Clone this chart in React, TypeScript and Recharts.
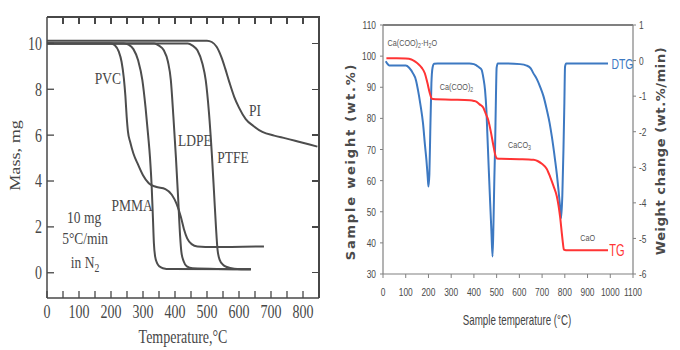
import React from 'react';
import { LineChart, Line, XAxis, YAxis, ReferenceDot } from 'recharts';

// ================= Left chart: TGA of polymers (Temperature °C -> Mass mg) =================
const leftTempTicks = [0, 50, 100, 150, 200, 250, 300, 350, 400, 450, 500, 550, 600, 650, 700, 750, 800];
const leftMassTicks = [0, 2, 4, 6, 8, 10];
const leftTempDomain = [0, 850];
const leftMassDomain = [-1.1, 11.15];

const pvcTemp = [0, 200, 212, 224, 233, 240, 245, 249, 253, 260, 270, 285, 300, 318, 340, 370, 390, 405, 418, 428, 438, 452, 470, 520, 678];
const pvcMass = [10, 10, 9.92, 9.65, 9.2, 8.5, 7.7, 6.8, 6.15, 5.7, 5.2, 4.7, 4.25, 3.9, 3.75, 3.65, 3.4, 3.0, 2.45, 1.9, 1.5, 1.25, 1.15, 1.12, 1.15];

const pmmaTemp = [0, 240, 255, 270, 285, 298, 308, 316, 322, 327, 331, 334, 338, 344, 352, 362, 385, 637];
const pmmaMass = [10, 10, 9.94, 9.75, 9.25, 8.4, 7.2, 6.0, 5.0, 3.8, 2.4, 1.3, 0.7, 0.42, 0.27, 0.2, 0.16, 0.15];

const ldpeTemp = [0, 335, 350, 365, 378, 387, 395, 403, 410, 416, 420, 427, 437, 455, 637];
const ldpeMass = [10, 10, 9.9, 9.7, 9.2, 8.4, 6.8, 5.0, 3.2, 1.6, 0.9, 0.5, 0.28, 0.2, 0.15];

const ptfeTemp = [0, 440, 455, 470, 486, 496, 506, 515, 522, 528, 533, 540, 550, 562, 585, 637];
const ptfeMass = [10, 10, 9.9, 9.7, 9.1, 8.4, 7.0, 5.2, 3.5, 2.0, 1.0, 0.55, 0.35, 0.25, 0.18, 0.15];

const piTemp = [0, 500, 515, 530, 545, 557, 570, 585, 600, 621, 645, 673, 710, 746, 790, 845];
const piMass = [10.12, 10.12, 10.06, 9.85, 9.4, 8.9, 8.3, 7.67, 7.2, 6.7, 6.4, 6.14, 5.98, 5.86, 5.7, 5.5];

// ================= Right chart: Ca oxalate TG / DTG =================
const rightTempTicks = [0, 100, 200, 300, 400, 500, 600, 700, 800, 900, 1000, 1100];
const rightTempDomain = [0, 1100];
const weightTicks = [30, 40, 50, 60, 70, 80, 90, 100, 110];
const weightDomain = [30, 110];
const rateTicks = [-6, -5, -4, -3, -2, -1, 0, 1];
const rateDomain = [-6, 1];

const tgTemp = [15, 60, 100, 125, 140, 155, 170, 184, 195, 206, 213, 220, 300, 382, 400, 412, 425, 441, 452, 463, 475, 485, 495, 502, 520, 600, 662, 680, 699, 720, 735, 750, 765, 779, 790, 796, 805, 990];
const tgWeight = [99.3, 99.3, 99.2, 98.9, 98.3, 97.5, 96.3, 94.5, 91.5, 88.1, 86.5, 86.2, 86.0, 85.8, 85.6, 85.3, 84.5, 83.5, 81.5, 79.5, 75.5, 71.5, 68.0, 67.1, 67.0, 66.9, 66.7, 66.3, 65.4, 63.8, 61.3, 58.3, 54.9, 48.5, 41.0, 37.8, 37.6, 37.6];

const dtgTemp = [12, 18, 28, 100, 115, 132, 145, 154, 165, 176, 185, 191, 197, 200, 204, 208, 213, 218, 225, 240, 380, 400, 412, 425, 434, 442, 449, 455, 459, 465, 471, 477, 482, 486, 490, 493, 497, 500, 505, 540, 603, 632, 650, 662, 677, 691, 706, 721, 733, 743, 757, 765, 772, 779, 784, 789, 794, 798, 801, 806, 990];
const dtgRate = [-0.02, -0.08, -0.14, -0.14, -0.2, -0.36, -0.55, -0.83, -1.25, -1.76, -2.4, -2.79, -3.3, -3.54, -3.2, -2.0, -0.64, -0.2, -0.09, -0.08, -0.08, -0.1, -0.14, -0.2, -0.26, -0.5, -0.83, -1.4, -2.04, -3.0, -3.92, -4.8, -5.51, -4.6, -3.3, -2.5, -1.0, -0.2, -0.08, -0.08, -0.1, -0.14, -0.22, -0.36, -0.52, -0.73, -1.0, -1.39, -1.75, -2.14, -2.79, -3.2, -3.63, -4.1, -4.43, -3.8, -2.51, -1.2, -0.17, -0.08, -0.08];

// ---------- stable series tables built from the arrays above ----------
const toPoints = (t: number[], v: number[]) => t.map((x, i) => ({ t: x, v: v[i] }));
const pvcPts = toPoints(pvcTemp, pvcMass);
const pmmaPts = toPoints(pmmaTemp, pmmaMass);
const ldpePts = toPoints(ldpeTemp, ldpeMass);
const ptfePts = toPoints(ptfeTemp, ptfeMass);
const piPts = toPoints(piTemp, piMass);
const tgPts = toPoints(tgTemp, tgWeight);
const dtgPts = toPoints(dtgTemp, dtgRate);

// ---------- layout ----------
const CHART_W = 340;
const CHART_H = 350;
const L_MARGIN = { top: 17, right: 21, left: 0, bottom: 0 };
const L_YAXIS_W = 47;
const L_XAXIS_H = 52;
const L_PLOT = { left: L_MARGIN.left + L_YAXIS_W, right: CHART_W - L_MARGIN.right, top: L_MARGIN.top, bottom: CHART_H - L_XAXIS_H };
const R_MARGIN = { top: 25, right: 0, left: 0, bottom: 0 };
const R_YAXIS_W = 43;
const R_Y2AXIS_W = 47;
const R_PLOT = { left: R_MARGIN.left + R_YAXIS_W, right: CHART_W - R_Y2AXIS_W, top: R_MARGIN.top };
const INNER_TICK = 7;

const SERIF = '"Liberation Serif", "DejaVu Serif", serif';
const SANS = '"Liberation Sans", Arial, sans-serif';
const WIDE = '"DejaVu Sans", "Liberation Sans", sans-serif';
const INK = '#474747';
const AXIS_R = '#808080';
const TXT_R = '#4a4a4a';
const BLUE = '#3d79c2';
const RED = '#ff3434';
const STRETCH = 1.3;

const L_AXIS = { stroke: INK, strokeWidth: 1.5 };
const L_TICK = { stroke: INK, strokeWidth: 1.3 };
const R_AXIS = { stroke: AXIS_R, strokeWidth: 1.2 };
const R_TICK = { stroke: AXIS_R, strokeWidth: 1 };

const LeftXTick = (p: any) => {
  const v = p.payload?.value;
  if (v % 100 !== 0) return <g />;
  return (
    <g transform={`translate(${p.x},${p.y}) scale(1,${STRETCH})`}>
      <text x={0} y={0} dy="0.71em" textAnchor="middle" fontFamily={SERIF} fontSize={14} fill={INK}>{v}</text>
    </g>
  );
};

const LeftYTick = (p: any) => (
  <g transform={`translate(${p.x},${p.y}) scale(1,${STRETCH})`}>
    <text x={0} y={0} dy="0.35em" textAnchor="end" fontFamily={SERIF} fontSize={14} fill={INK}>{p.payload?.value}</text>
  </g>
);

const NarrowTick = (p: any) => {
  const anchor = p.textAnchor || 'middle';
  const bottom = p.orientation === 'bottom';
  return (
    <g transform={`translate(${p.x},${p.y}) scale(0.8,1.12)`}>
      <text x={0} y={0} dy={bottom ? '0.71em' : '0.35em'} textAnchor={anchor} fontFamily={SANS} fontSize={10.5} fill={TXT_R}>{p.payload?.value}</text>
    </g>
  );
};

type LabelOpts = {
  content: React.ReactNode;
  size: number;
  fill: string;
  family: string;
  anchor?: 'start' | 'middle' | 'end';
  weight?: number | string;
  sx?: number;
  sy?: number;
};

const makeLabel = (o: LabelOpts) => (props: any) => {
  const vb = props.viewBox || {};
  const x = (vb.x ?? 0) + (vb.width ?? 0) / 2;
  const y = (vb.y ?? 0) + (vb.height ?? 0) / 2;
  return (
    <g transform={`translate(${x},${y}) scale(${o.sx ?? 1},${o.sy ?? 1})`}>
      <text x={0} y={0} dy="0.35em" textAnchor={o.anchor ?? 'middle'} fontFamily={o.family} fontSize={o.size} fill={o.fill} fontWeight={o.weight ?? 'normal'}>
        {o.content}
      </text>
    </g>
  );
};

const Sub = ({ children }: { children: React.ReactNode }) => (
  <tspan dy="0.3em" fontSize="0.72em">{children}</tspan>
);
const Up = ({ children }: { children: React.ReactNode }) => (
  <tspan dy="-0.22em">{children}</tspan>
);

const serifLabel = (content: React.ReactNode) => makeLabel({ content, size: 13.5, fill: INK, family: SERIF, sy: STRETCH });
const smallLabel = (content: React.ReactNode) => makeLabel({ content, size: 8.5, fill: '#555', family: SANS, anchor: 'start', sx: 0.85, sy: 1.05 });

const LBL_PVC = serifLabel('PVC');
const LBL_PI = serifLabel('PI');
const LBL_LDPE = serifLabel('LDPE');
const LBL_PTFE = serifLabel('PTFE');
const LBL_PMMA = serifLabel('PMMA');
const LBL_MG = serifLabel('10 mg');
const LBL_RATE = serifLabel('5°C/min');
const LBL_N2 = serifLabel(<>in N<Sub>2</Sub></>);
const LBL_HYD = smallLabel(<>Ca(COO)<Sub>2</Sub><Up>·H</Up><Sub>2</Sub><Up>O</Up></>);
const LBL_OX = smallLabel(<>Ca(COO)<Sub>2</Sub></>);
const LBL_CO3 = smallLabel(<>CaCO<Sub>3</Sub></>);
const LBL_CAO = smallLabel('CaO');
const LBL_DTG = makeLabel({ content: 'DTG', size: 13, fill: BLUE, family: SANS, anchor: 'start', sx: 0.8, sy: 1.15 });
const LBL_TG = makeLabel({ content: 'TG', size: 13, fill: RED, family: SANS, anchor: 'start', sx: 0.85, sy: 1.2 });

const LeftXTitle = {
  content: (p: any) => {
    const vb = p.viewBox;
    return (
      <g transform={`translate(${vb.x + vb.width / 2},${vb.y + 39}) scale(1,${STRETCH})`}>
        <text x={0} y={0} dy="0.35em" textAnchor="middle" fontFamily={SERIF} fontSize={14} fill={INK}>Temperature,°C</text>
      </g>
    );
  },
};
const LeftYTitle = {
  content: (p: any) => {
    const vb = p.viewBox;
    return (
      <g transform={`translate(${vb.x + 15},${vb.y + vb.height / 2 - 2}) rotate(-90) scale(${STRETCH},1)`}>
        <text x={0} y={0} dy="0.35em" textAnchor="middle" fontFamily={SERIF} fontSize={14} fill={INK}>Mass, mg</text>
      </g>
    );
  },
};
const RightXTitle = {
  content: (p: any) => {
    const vb = p.viewBox;
    return (
      <g transform={`translate(${vb.x + vb.width / 2 + 9},${vb.y + 46}) scale(0.78,1.12)`}>
        <text x={0} y={0} dy="0.35em" textAnchor="middle" fontFamily={SANS} fontSize={12.5} fill="#444">Sample temperature (°C)</text>
      </g>
    );
  },
};
const RightYTitle = {
  content: (p: any) => {
    const vb = p.viewBox;
    return (
      <text transform={`translate(${vb.x + 10},${vb.y + vb.height / 2 + 12}) rotate(-90)`} x={0} y={0} dy="0.35em" textAnchor="middle" fontFamily={WIDE} fontWeight="bold" fontSize={13} letterSpacing={1.8} fill="#4a4a4a">
        Sample weight (wt.%)
      </text>
    );
  },
};
const RightY2Title = {
  content: (p: any) => {
    const vb = p.viewBox;
    return (
      <text transform={`translate(${vb.x + 27},${vb.y + vb.height / 2 + 1.5}) rotate(-90)`} x={0} y={0} dy="0.35em" textAnchor="middle" fontFamily={WIDE} fontWeight="bold" fontSize={13} letterSpacing={0.6} fill="#4a4a4a">
        Weight change (wt.%/min)
      </text>
    );
  },
};

// ---------- frame overlay (top/right border of the plot box and its inward ticks) ----------
const lerp = (v: number, d: number[], a: number, b: number) => a + ((v - d[0]) / (d[1] - d[0])) * (b - a);

function LeftFrame() {
  const w = L_PLOT.right - L_PLOT.left;
  const h = L_PLOT.bottom - L_PLOT.top;
  return (
    <div style={{ position: 'absolute', left: L_PLOT.left, top: L_PLOT.top, width: w, height: h, pointerEvents: 'none' }}>
      <div style={{ position: 'absolute', left: 0, top: -0.75, width: w + 0.75, height: 1.5, background: INK }} />
      <div style={{ position: 'absolute', left: w - 0.75, top: -0.75, width: 1.5, height: h + 0.75, background: INK }} />
      {leftTempTicks.filter((t) => t > leftTempDomain[0]).map((t) => (
        <div key={`tt${t}`} style={{ position: 'absolute', left: lerp(t, leftTempDomain, 0, w) - 0.65, top: 0, width: 1.3, height: INNER_TICK, background: INK }} />
      ))}
      {leftMassTicks.map((m) => (
        <div key={`rt${m}`} style={{ position: 'absolute', left: w - INNER_TICK, top: lerp(m, leftMassDomain, h, 0) - 0.65, width: INNER_TICK, height: 1.3, background: INK }} />
      ))}
    </div>
  );
}

function RightFrame() {
  const w = R_PLOT.right - R_PLOT.left;
  return (
    <div style={{ position: 'absolute', left: R_PLOT.left, top: R_PLOT.top - 0.6, width: w, height: 1.2, background: AXIS_R, pointerEvents: 'none' }} />
  );
}

function LeftChart() {
  const lp = { type: 'monotone' as const, dataKey: 'v', stroke: '#4d4d4d', strokeWidth: 2, dot: false, isAnimationActive: false, xAxisId: 'b', yAxisId: 'l' };
  const dot = { r: 1, fill: 'none', stroke: 'none', xAxisId: 'b', yAxisId: 'l' };
  return (
    <LineChart width={CHART_W} height={CHART_H} margin={L_MARGIN}>
      <XAxis
        xAxisId="b"
        dataKey="t"
        type="number"
        domain={leftTempDomain}
        ticks={leftTempTicks}
        interval={0}
        height={L_XAXIS_H}
        tickSize={-INNER_TICK}
        tickMargin={14}
        axisLine={L_AXIS}
        tickLine={L_TICK}
        tick={LeftXTick}
        label={LeftXTitle}
      />
      <YAxis
        yAxisId="l"
        type="number"
        domain={leftMassDomain}
        ticks={leftMassTicks}
        interval={0}
        width={L_YAXIS_W}
        tickSize={-INNER_TICK}
        tickMargin={12}
        axisLine={L_AXIS}
        tickLine={L_TICK}
        tick={LeftYTick}
        label={LeftYTitle}
      />
      <Line {...lp} data={pvcPts} />
      <Line {...lp} data={pmmaPts} />
      <Line {...lp} data={ldpePts} />
      <Line {...lp} data={ptfePts} />
      <Line {...lp} data={piPts} />
      <ReferenceDot {...dot} x={190} y={8.5} label={LBL_PVC} />
      <ReferenceDot {...dot} x={650} y={7.1} label={LBL_PI} />
      <ReferenceDot {...dot} x={462} y={5.8} label={LBL_LDPE} />
      <ReferenceDot {...dot} x={581} y={5.05} label={LBL_PTFE} />
      <ReferenceDot {...dot} x={266} y={2.95} label={LBL_PMMA} />
      <ReferenceDot {...dot} x={116} y={2.43} label={LBL_MG} />
      <ReferenceDot {...dot} x={119} y={1.52} label={LBL_RATE} />
      <ReferenceDot {...dot} x={119} y={0.48} label={LBL_N2} />
    </LineChart>
  );
}

function RightChart() {
  const rd = { r: 1, fill: 'none', stroke: 'none', xAxisId: 'b' };
  return (
    <LineChart width={CHART_W} height={CHART_H} margin={R_MARGIN}>
      <XAxis
        xAxisId="b"
        dataKey="t"
        type="number"
        domain={rightTempDomain}
        ticks={rightTempTicks}
        interval={0}
        height={76}
        tickSize={4}
        tickMargin={10}
        axisLine={R_AXIS}
        tickLine={R_TICK}
        tick={NarrowTick}
        label={RightXTitle}
      />
      <YAxis
        yAxisId="w"
        type="number"
        domain={weightDomain}
        ticks={weightTicks}
        interval={0}
        width={R_YAXIS_W}
        tickSize={3}
        tickMargin={4}
        axisLine={R_AXIS}
        tickLine={R_TICK}
        tick={NarrowTick}
        label={RightYTitle}
      />
      <YAxis
        yAxisId="d"
        orientation="right"
        type="number"
        domain={rateDomain}
        ticks={rateTicks}
        interval={0}
        width={R_Y2AXIS_W}
        tickSize={3}
        tickMargin={3}
        axisLine={R_AXIS}
        tickLine={R_TICK}
        tick={NarrowTick}
        label={RightY2Title}
      />
      <Line type="monotone" xAxisId="b" yAxisId="d" data={dtgPts} dataKey="v" stroke={BLUE} strokeWidth={2} dot={false} isAnimationActive={false} />
      <Line type="monotone" xAxisId="b" yAxisId="w" data={tgPts} dataKey="v" stroke={RED} strokeWidth={2} dot={false} isAnimationActive={false} />
      <ReferenceDot {...rd} yAxisId="w" x={20} y={104.2} label={LBL_HYD} />
      <ReferenceDot {...rd} yAxisId="w" x={250} y={90.1} label={LBL_OX} />
      <ReferenceDot {...rd} yAxisId="w" x={550} y={71.5} label={LBL_CO3} />
      <ReferenceDot {...rd} yAxisId="w" x={868} y={41.6} label={LBL_CAO} />
      <ReferenceDot {...rd} yAxisId="d" x={1005} y={-0.08} label={LBL_DTG} />
      <ReferenceDot {...rd} yAxisId="w" x={995} y={37.6} label={LBL_TG} />
    </LineChart>
  );
}

export default function App() {
  return (
    <div style={{ position: 'absolute', left: 0, top: 0, width: 680, height: 350, background: '#fff', overflow: 'hidden' }}>
      <div style={{ position: 'absolute', left: 0, top: 0, width: CHART_W, height: CHART_H }}>
        <LeftChart />
        <LeftFrame />
      </div>
      <div style={{ position: 'absolute', left: 340, top: 0, width: CHART_W, height: CHART_H }}>
        <RightChart />
        <RightFrame />
      </div>
    </div>
  );
}
